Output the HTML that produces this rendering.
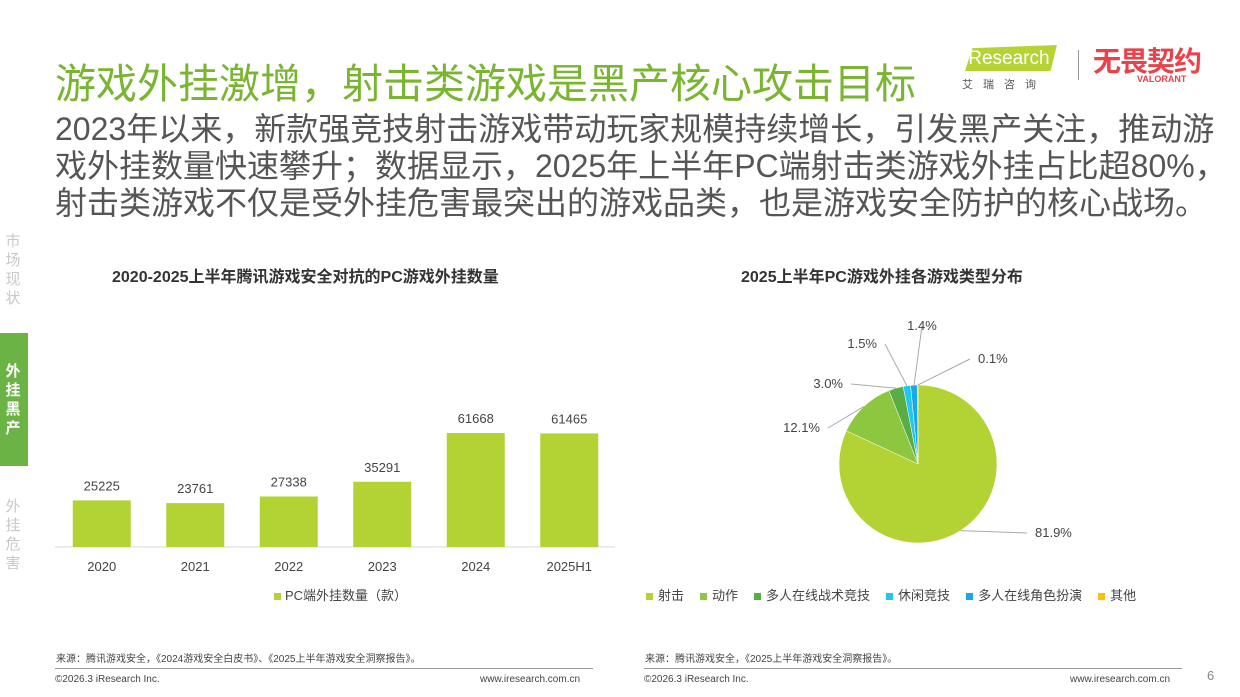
<!DOCTYPE html>
<html><head><meta charset="utf-8">
<style>
body{margin:0;width:1240px;height:697px;background:#fff;position:relative;overflow:hidden;font-family:"Liberation Sans","Noto Sans CJK SC",sans-serif;}
.a{position:absolute;}
.side{position:absolute;left:5px;width:16px;font-size:15px;line-height:19px;color:#c8c8c8;text-align:center;}
</style></head><body>
<div class="a" style="left:55px;top:50px;font-size:41px;color:#7ab531;white-space:nowrap">游戏外挂激增，射击类游戏是黑产核心攻击目标</div>
<div class="a" style="left:55px;top:111px;font-size:32px;line-height:37px;color:#555;white-space:nowrap">2023年以来，新款强竞技射击游戏带动玩家规模持续增长，引发黑产关注，推动游<br>戏外挂数量快速攀升；数据显示，2025年上半年PC端射击类游戏外挂占比超80%，<br>射击类游戏不仅是受外挂危害最突出的游戏品类，也是游戏安全防护的核心战场。</div>
<div class="a" style="left:960px;top:43px;width:100px;height:28px">
 <div class="a" style="left:5px;top:2px;width:92px;height:26px;background:#b5d334;clip-path:polygon(8% 12%,100% 0,93% 100%,0 100%)"></div>
 <div class="a" style="left:4px;top:5px;font-size:19px;color:#fff">iResearch</div>
</div>
<div class="a" style="left:962px;top:76px;font-size:11px;color:#555;letter-spacing:10px">艾瑞咨询</div>
<div class="a" style="left:1078px;top:50px;width:1px;height:30px;background:#999"></div>
<div class="a" style="left:1093px;top:40px;font-size:28px;font-weight:bold;color:#e8424a;letter-spacing:-1px">无畏契约</div>
<div class="a" style="left:1137px;top:74px;font-size:9px;font-weight:bold;color:#e8424a">VALORANT</div>

<div class="side" style="top:232px">市场现状</div>
<div class="a" style="left:0;top:333px;width:28px;height:133px;background:#6ab344"></div>
<div class="side" style="top:362px;color:#fff;font-weight:bold">外挂黑产</div>
<div class="side" style="top:497px">外挂危害</div>

<div class="a" style="left:112px;top:263px;font-size:16px;font-weight:bold;color:#333">2020-2025上半年腾讯游戏安全对抗的PC游戏外挂数量</div>
<div class="a" style="left:741px;top:263px;font-size:16px;font-weight:bold;color:#333">2025上半年PC游戏外挂各游戏类型分布</div>

<svg class="a" style="left:0;top:0" width="1240" height="697" id="svg">
<g id="bars"></g><g id="pie"></g>
</svg>

<div class="a" style="left:274px;top:585px;font-size:13px;color:#444"><span style="display:inline-block;width:7px;height:7px;background:#b3d334;margin-right:4px"></span>PC端外挂数量（款）</div>
<div class="a" style="left:646px;top:585px;font-size:13px;color:#444;white-space:nowrap" id="pl"></div>

<div class="a" style="left:56px;top:650px;font-size:10px;color:#444">来源：腾讯游戏安全，《2024游戏安全白皮书》、《2025上半年游戏安全洞察报告》。</div>
<div class="a" style="left:645px;top:650px;font-size:10px;color:#444">来源：腾讯游戏安全，《2025上半年游戏安全洞察报告》。</div>
<div class="a" style="left:55px;top:668px;width:538px;height:1px;background:#999"></div>
<div class="a" style="left:644px;top:668px;width:538px;height:1px;background:#999"></div>
<div class="a" style="left:55px;top:674px;font-size:10px;color:#444">©2026.3 iResearch Inc.</div>
<div class="a" style="left:480px;top:674px;font-size:10px;color:#444">www.iresearch.com.cn</div>
<div class="a" style="left:644px;top:674px;font-size:10px;color:#444">©2026.3 iResearch Inc.</div>
<div class="a" style="left:1070px;top:674px;font-size:10px;color:#444">www.iresearch.com.cn</div>
<div class="a" style="left:1207px;top:668px;font-size:13px;color:#888">6</div>

<script>
const years=["2020","2021","2022","2023","2024","2025H1"];
const counts=[25225,23761,27338,35291,61668,61465];
const pieLabels=["射击","动作","多人在线战术竞技","休闲竞技","多人在线角色扮演","其他"];
const pieValues=[81.9,12.1,3.0,1.5,1.4,0.1];
const pieColors=["#b3d334","#8dc63f","#5aac44","#1fc7f2","#1aa8e8","#ffc000"];
const NS="http://www.w3.org/2000/svg";
function mk(t,a,p){const e=document.createElementNS(NS,t);for(const k in a)e.setAttribute(k,a[k]);p.appendChild(e);return e;}
const bg=document.getElementById('bars');
const base=547,x0=55,step=93.5,bw=58;
const y=v=>base-v*114/61668;
mk('line',{x1:55,x2:615,y1:base,y2:base,stroke:'#d9d9d9'},bg);
years.forEach((c,i)=>{const cx=x0+step*(i+0.5);
 const r=mk('rect',{x:cx-bw/2,y:y(counts[i]),width:bw,height:base-y(counts[i]),fill:'#b3d334'},bg);
 
 
 const t=mk('text',{x:cx,y:y(counts[i])-10,'text-anchor':'middle','font-size':13,fill:'#444'},bg);t.textContent=counts[i];
 
 
 const l=mk('text',{x:cx,y:571,'text-anchor':'middle','font-size':13,fill:'#444'},bg);l.textContent=c;
 
 
});
const pg=document.getElementById('pie');
const cx=918,cy=464,R=79;
const tot=pieValues.reduce((a,b)=>a+b,0);
let ang=0;
const labelPos=[[1035,537,'start'],[820,432,'end'],[843,388,'end'],[877,348,'end'],[922,330,'middle'],[978,363,'start']];
pieValues.forEach((v,i)=>{
 const a0=ang,a1=ang+v/tot*2*Math.PI;ang=a1;
 const p=a=>[cx+R*Math.sin(a),cy-R*Math.cos(a)];
 const [xa,ya]=p(a0),[xb,yb]=p(a1);
 const s=mk('path',{d:`M${cx},${cy}L${xa},${ya}A${R},${R} 0 ${a1-a0>Math.PI?1:0} 1 ${xb},${yb}Z`,fill:pieColors[i],stroke:'#fff','stroke-width':0.5},pg);
 
 
 const m=(a0+a1)/2,[xm,ym]=p(m);
 const [lx,ly,an]=labelPos[i];
 mk('polyline',{points:`${xm},${ym} ${lx+(an==='start'?-8:an==='end'?8:0)},${ly-4}`,fill:'none',stroke:'#aaa'},pg);
 const t=mk('text',{x:lx,y:ly,'text-anchor':an,'font-size':13,fill:'#444'},pg);t.textContent=v.toFixed(1)+'%';
 
 
});
const pl=document.getElementById('pl');
pieLabels.forEach((l,i)=>{const s=document.createElement('span');s.style.marginRight='16px';
 s.innerHTML=`<span style="display:inline-block;width:7px;height:7px;background:${pieColors[i]};margin-right:5px"></span>${l}`;
 
 
 pl.appendChild(s);});
</script>
</body></html>
